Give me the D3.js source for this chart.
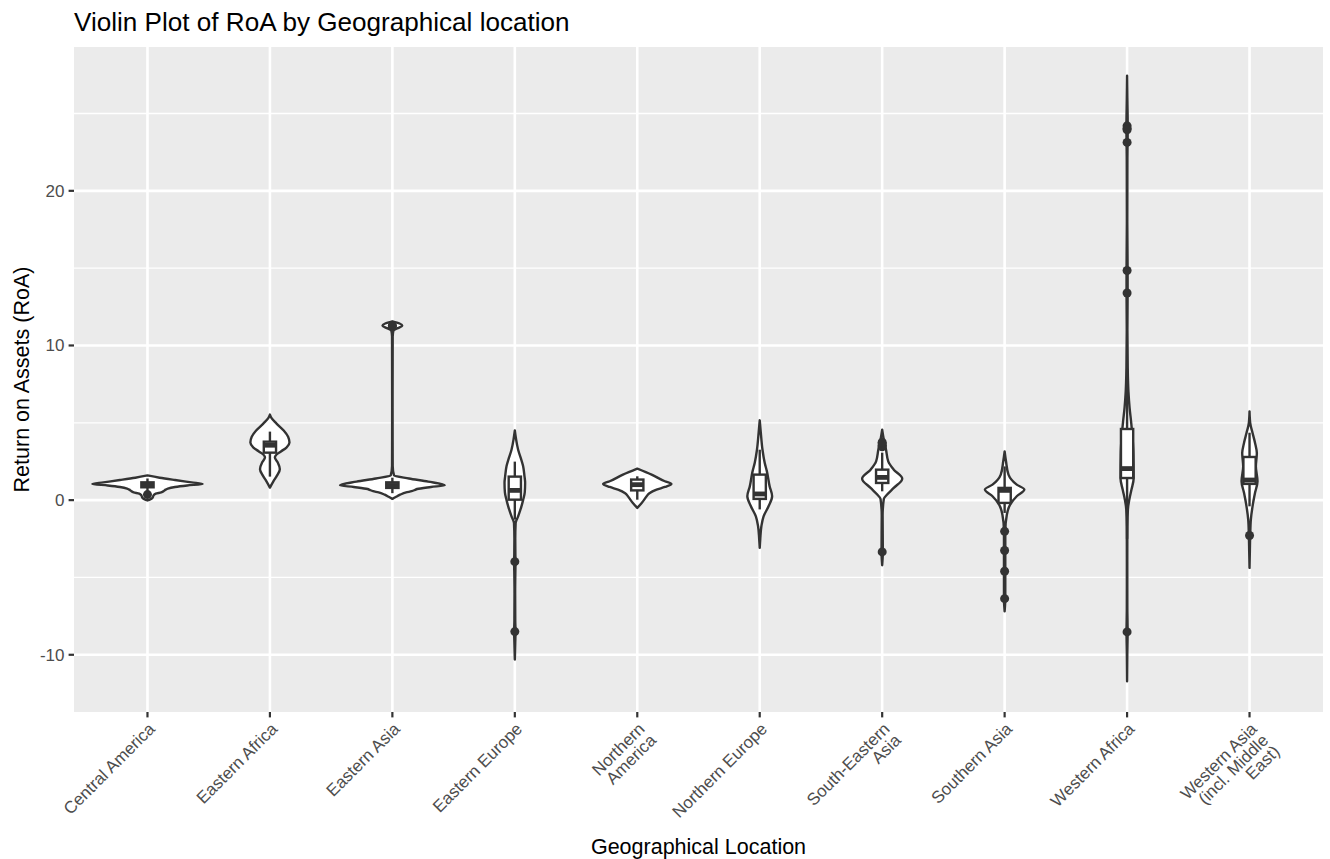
<!DOCTYPE html>
<html>
<head>
<meta charset="utf-8">
<script src="https://cdn.jsdelivr.net/npm/d3@7"></script>
<style>
  body { margin: 0; background: #fff; }
  svg { display: block; font-family: "Liberation Sans", Arial, Helvetica, sans-serif; }
</style>
</head>
<body>
<div id="chart"></div>
<script>
const categories = [
  "Central America", "Eastern Africa", "Eastern Asia", "Eastern Europe", "Northern America",
  "Northern Europe", "South-Eastern Asia", "Southern Asia", "Western Africa",
  "Western Asia (incl. Middle East)"
];
const tickLabels = [
  ["Central America"], ["Eastern Africa"], ["Eastern Asia"], ["Eastern Europe"],
  ["Northern", "America"], ["Northern Europe"], ["South-Eastern", "Asia"],
  ["Southern Asia"], ["Western Africa"], ["Western Asia", "(incl. Middle", "East)"]
];
const yTicks = [-10, 0, 10, 20];
const yMinorTicks = [-5, 5, 15, 25];

// violin outline: [RoA, relative half width], top to bottom
const violinProfiles = [
  [[1.6,0],[1.45,0.22],[1.3,0.5],[1.15,0.8],[1.05,1],[0.95,0.72],[0.85,0.5],[0.75,0.37],[0.68,0.33],[0.6,0.3],[0.5,0.25],[0.42,0.15],[0.3,0.11],[0.15,0.09],[0.05,0.05],[-0.02,0]],
  [[5.53,0],[5.3,0.03],[4.95,0.12],[4.5,0.25],[4.1,0.33],[3.72,0.355],[3.4,0.3],[3.15,0.2],[2.95,0.12],[2.75,0.09],[2.45,0.14],[2.0,0.18],[1.6,0.13],[1.2,0.06],[0.81,0]],
  [[11.56,0],[11.42,0.13],[11.28,0.18],[11.12,0.1],[10.97,0.02],[10.6,0.006],[6,0.004],[2.2,0.006],[1.6,0.03],[1.4,0.3],[1.2,0.65],[0.96,0.95],[0.85,0.7],[0.72,0.45],[0.66,0.41],[0.58,0.35],[0.5,0.25],[0.35,0.14],[0.2,0.06],[0.08,0]],
  [[4.51,0],[4.0,0.02],[3.26,0.06],[2.7,0.11],[2.2,0.15],[1.55,0.175],[1.13,0.187],[0.5,0.18],[0,0.15],[-0.4,0.12],[-1.05,0.06],[-1.47,0.015],[-2.5,0.008],[-3.5,0.01],[-4,0.013],[-4.6,0.01],[-6,0.006],[-7.8,0.008],[-8.5,0.013],[-9.2,0.008],[-10.31,0]],
  [[2.04,0],[1.65,0.26],[1.22,0.5],[1.05,0.62],[0.85,0.5],[0.68,0.35],[0.45,0.22],[0.25,0.17],[0,0.12],[-0.18,0.08],[-0.5,0]],
  [[5.16,0],[4.35,0.02],[3.26,0.05],[2.42,0.09],[1.86,0.13],[0.89,0.18],[0.25,0.225],[-0.4,0.16],[-1.05,0.07],[-1.69,0.03],[-2.5,0.01],[-3.09,0]],
  [[4.56,0],[3.9,0.03],[3.26,0.07],[2.51,0.11],[1.97,0.21],[1.39,0.364],[0.79,0.21],[0.36,0.09],[0.08,0.03],[-1,0.008],[-3.35,0.012],[-4.21,0]],
  [[3.15,0],[2.51,0.025],[1.65,0.07],[1.0,0.22],[0.68,0.358],[0.25,0.22],[-0.29,0.1],[-0.94,0.04],[-2,0.012],[-3.3,0.012],[-4.6,0.012],[-6.4,0.012],[-7.19,0]],
  [[27.44,0],[26,0.005],[24.1,0.012],[22,0.006],[18,0.004],[14.85,0.01],[13.4,0.01],[11,0.006],[8.5,0.012],[7,0.025],[6,0.045],[5,0.075],[4,0.1],[3,0.115],[1.43,0.12],[0.68,0.08],[0.03,0.04],[-0.6,0.015],[-1.7,0.006],[-4,0.004],[-7,0.005],[-8.5,0.01],[-10,0.004],[-11.71,0]],
  [[5.74,0],[4.99,0.012],[4.34,0.055],[3.7,0.1],[3.04,0.133],[2.18,0.115],[1.22,0.145],[0.47,0.1],[-0.4,0.055],[-1.26,0.024],[-2.29,0.012],[-3.3,0.006],[-4.38,0]]
];

const boxQ1 = [0.83, 3.07, 0.79, 0.03, 0.63, 0.08, 1.11, -0.18, 1.43, 1.05];
const boxMedian = [0.98, 3.55, 0.95, 0.63, 1.0, 0.4, 1.47, 0.63, 2.04, 1.3];
const boxQ3 = [1.15, 3.78, 1.15, 1.52, 1.33, 1.65, 1.97, 0.79, 4.6, 2.79];
const whiskerLow = [0.6, 1.52, 0.45, -1.26, 0.03, -0.6, 0.57, -0.83, -2.5, -0.4];
const whiskerHigh = [1.4, 4.43, 1.45, 2.49, 1.54, 3.26, 3.07, 2.18, 8.5, 4.36];
const outliers = [
  [0.36], [], [11.22, 11.3], [-3.98, -8.5], [], [],
  [3.45, 3.55, 3.65, 3.75, -3.35], [-2.02, -3.26, -4.6, -6.37],
  [24.2, 24.05, 23.95, 23.13, 14.85, 13.39, -8.52], [-2.29]
];

const width = 1330, height = 859;
const panel = { left: 74, right: 1323, top: 47, bottom: 712 };
const ink = "#333333";
const lw = 2.4;

const svg = d3.select("#chart").append("svg")
  .attr("width", width)
  .attr("height", height);

const x = d3.scalePoint().domain(categories).range([panel.left, panel.right]).padding(0.6);
const y = d3.scaleLinear().domain([-13.7, 29.3]).range([panel.bottom, panel.top]);
const halfWidth = d3.scaleLinear().domain([0, 1]).range([0, x.step() * 0.45]);
const boxHalf = x.step() * 0.05;

// panel + grid
svg.append("rect")
  .attr("x", panel.left).attr("y", panel.top)
  .attr("width", panel.right - panel.left).attr("height", panel.bottom - panel.top)
  .attr("fill", "#EBEBEB");

svg.append("g").selectAll("line")
  .data(yMinorTicks)
  .join("line")
  .attr("x1", panel.left).attr("x2", panel.right)
  .attr("y1", d => y(d)).attr("y2", d => y(d))
  .attr("stroke", "#fff").attr("stroke-width", 1.3);

svg.append("g").selectAll("line")
  .data(yTicks)
  .join("line")
  .attr("x1", panel.left).attr("x2", panel.right)
  .attr("y1", d => y(d)).attr("y2", d => y(d))
  .attr("stroke", "#fff").attr("stroke-width", 2.6);

svg.append("g").selectAll("line")
  .data(categories)
  .join("line")
  .attr("x1", d => x(d)).attr("x2", d => x(d))
  .attr("y1", panel.top).attr("y2", panel.bottom)
  .attr("stroke", "#fff").attr("stroke-width", 2.6);

// violins
const groups = svg.append("g").selectAll("g")
  .data(categories)
  .join("g");

groups.append("path")
  .attr("d", (c, i) => {
    const cx = x(c);
    return d3.area()
      .curve(d3.curveMonotoneY)
      .y(p => y(p[0]))
      .x0(p => cx - halfWidth(p[1]))
      .x1(p => cx + halfWidth(p[1]))(violinProfiles[i]);
  })
  .attr("fill", "#fff")
  .attr("stroke", ink)
  .attr("stroke-width", lw)
  .attr("stroke-linejoin", "round");

// boxplots
groups.append("line")
  .attr("x1", c => x(c)).attr("x2", c => x(c))
  .attr("y1", (c, i) => y(whiskerHigh[i])).attr("y2", (c, i) => y(boxQ3[i]))
  .attr("stroke", ink).attr("stroke-width", lw);

groups.append("line")
  .attr("x1", c => x(c)).attr("x2", c => x(c))
  .attr("y1", (c, i) => y(boxQ1[i])).attr("y2", (c, i) => y(whiskerLow[i]))
  .attr("stroke", ink).attr("stroke-width", lw);

groups.append("rect")
  .attr("x", c => x(c) - boxHalf)
  .attr("width", boxHalf * 2)
  .attr("y", (c, i) => y(boxQ3[i]))
  .attr("height", (c, i) => y(boxQ1[i]) - y(boxQ3[i]))
  .attr("fill", "#fff")
  .attr("stroke", ink)
  .attr("stroke-width", lw);

groups.append("line")
  .attr("x1", c => x(c) - boxHalf).attr("x2", c => x(c) + boxHalf)
  .attr("y1", (c, i) => y(boxMedian[i])).attr("y2", (c, i) => y(boxMedian[i]))
  .attr("stroke", ink).attr("stroke-width", lw * 2);

groups.each(function(c, i) {
  d3.select(this).selectAll("circle")
    .data(outliers[i])
    .join("circle")
    .attr("cx", x(c))
    .attr("cy", d => y(d))
    .attr("r", 4.5)
    .attr("fill", ink);
});

// y axis
const yAxis = svg.append("g");
yAxis.selectAll("line")
  .data(yTicks)
  .join("line")
  .attr("x1", panel.left - 5.4).attr("x2", panel.left)
  .attr("y1", d => y(d)).attr("y2", d => y(d))
  .attr("stroke", ink).attr("stroke-width", 2.2);
yAxis.selectAll("text")
  .data(yTicks)
  .join("text")
  .attr("x", panel.left - 9.5)
  .attr("y", d => y(d))
  .attr("dy", "0.35em")
  .attr("text-anchor", "end")
  .attr("font-size", 17)
  .attr("fill", "#4D4D4D")
  .text(d => d);

// x axis
const xAxis = svg.append("g");
xAxis.selectAll("line")
  .data(categories)
  .join("line")
  .attr("x1", d => x(d)).attr("x2", d => x(d))
  .attr("y1", panel.bottom).attr("y2", panel.bottom + 5.4)
  .attr("stroke", ink).attr("stroke-width", 2.2);

xAxis.selectAll("text")
  .data(categories)
  .join("text")
  .attr("transform", d => `translate(${x(d)},${panel.bottom + 9.5}) rotate(-45)`)
  .attr("text-anchor", "end")
  .attr("font-size", 17)
  .attr("fill", "#4D4D4D")
  .each(function(d, i) {
    d3.select(this).selectAll("tspan")
      .data(tickLabels[i])
      .join("tspan")
      .attr("x", 0)
      .attr("y", (t, j) => 12 + j * 16)
      .text(t => t);
  });

// titles
svg.append("text")
  .attr("x", panel.left)
  .attr("y", 31)
  .attr("font-size", 26.1)
  .attr("fill", "#000")
  .text("Violin Plot of RoA by Geographical location");

svg.append("text")
  .attr("x", (panel.left + panel.right) / 2)
  .attr("y", 854)
  .attr("text-anchor", "middle")
  .attr("font-size", 21.5)
  .attr("fill", "#000")
  .text("Geographical Location");

svg.append("text")
  .attr("transform", `translate(29,${(panel.top + panel.bottom) / 2}) rotate(-90)`)
  .attr("text-anchor", "middle")
  .attr("font-size", 21.5)
  .attr("fill", "#000")
  .text("Return on Assets (RoA)");
</script>
</body>
</html>
